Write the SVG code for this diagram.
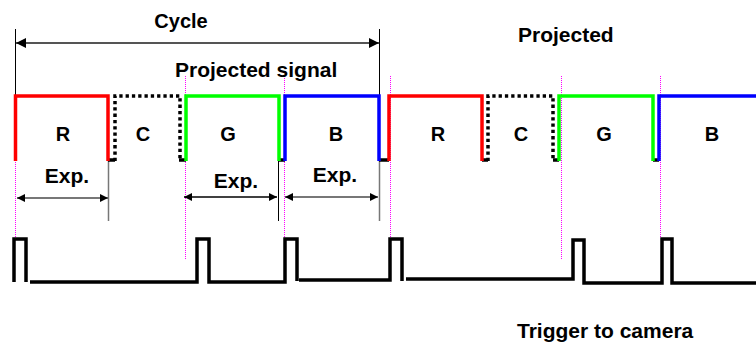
<svg xmlns="http://www.w3.org/2000/svg" width="756" height="343" viewBox="0 0 756 343">
<style>
text{font-family:"Liberation Sans",Arial,sans-serif;font-weight:bold;fill:#000}
.t20{font-size:20px}
.t21{font-size:21px}
.sig{fill:none;stroke-width:3.5;stroke-linejoin:miter}
.r{stroke:#ff0000}.g{stroke:#00ff00}.b{stroke:#0000ff}
.c{stroke:#000;stroke-dasharray:3.3 3}
.low{stroke:#000;stroke-width:3.5;fill:none}
.mag{stroke:#ff00ff;stroke-width:1;stroke-dasharray:1 1;fill:none}
.tick{stroke:#000;stroke-width:1;fill:none}
.gtick{stroke:#777;stroke-width:1.5;fill:none}
.trig{fill:none;stroke:#000;stroke-width:3.5;stroke-linejoin:miter}
</style>
<defs>
<marker id="ah" viewBox="0 0 10 10" refX="10" refY="5" markerWidth="8" markerHeight="8" markerUnits="userSpaceOnUse" orient="auto-start-reverse">
<path d="M0,0 L10,5 L0,10 Z" fill="#000"/>
</marker>
<marker id="ahc" viewBox="0 0 10 10" refX="10" refY="5" markerWidth="10" markerHeight="10" markerUnits="userSpaceOnUse" orient="auto-start-reverse">
<path d="M0,0 L10,5 L0,10 Z" fill="#000"/>
</marker>
</defs>

<g id="guides">
<path class="mag" d="M15.5,76 V238 M185.5,76 V259 M284.5,76 V238 M390.5,76 V238 M561.5,76 V259 M660.5,76 V238"/>
</g>

<g id="connectors">
<path class="tick" d="M15.5,29 V96 M379.5,29 V96"/>
<line x1="16" y1="43" x2="379" y2="43" stroke="#555" stroke-width="2" marker-start="url(#ahc)" marker-end="url(#ahc)"/>
<path class="gtick" d="M108.5,161 V221 M379.5,161 V221"/>
<path class="tick" d="M278.5,157 V221"/>
<line x1="17" y1="198" x2="108" y2="198" stroke="#777" stroke-width="2" marker-start="url(#ah)" marker-end="url(#ah)"/>
<line x1="184" y1="197" x2="277" y2="197" stroke="#000" stroke-width="1.5" marker-start="url(#ah)" marker-end="url(#ah)"/>
<line x1="285" y1="197" x2="378" y2="197" stroke="#777" stroke-width="2" marker-start="url(#ah)" marker-end="url(#ah)"/>
</g>

<g id="projected-signal">
<path class="low" d="M108,160 H115 M179,160 H186 M279,160 H285 M379,160 H389 M482,160 H488 M553,160 H559 M653,160 H659"/>
<path id="seg-R1" class="sig r" d="M15.5,161 V96 H108 V161"/>
<path id="seg-C1" class="sig c" d="M115,161 V96 H180 V161"/>
<path id="seg-G1" class="sig g" d="M186,161 V96 H279 V161"/>
<path id="seg-B1" class="sig b" d="M285,161 V96 H379 V161"/>
<path id="seg-R2" class="sig r" d="M389,161 V96 H482 V161"/>
<path id="seg-C2" class="sig c" d="M488,161 V96 H553 V161"/>
<path id="seg-G2" class="sig g" d="M559,161 V96 H653 V161"/>
<path id="seg-B2" class="sig b" d="M659,161 V96 H760"/>
</g>

<g id="trigger">
<path class="trig" d="M14,282 V239 H26 V282"/>
<path class="trig" d="M30,282 H197 V239 H209 V282 H285 V239 H297 V281"/>
<path class="trig" d="M299,280 H390 V239 H402 V281"/>
<path class="trig" d="M406,279 H573 V240 H584 V283 H662 V239 H672 V283 H760"/>
</g>

<g id="labels">
<text class="t20" x="181" y="28" text-anchor="middle">Cycle</text>
<text class="t21" x="175" y="77">Projected signal</text>
<text class="t21" x="518" y="42">Projected</text>
<text class="t21" x="517" y="338">Trigger to camera</text>
<text class="t20" x="63" y="141" text-anchor="middle">R</text>
<text class="t20" x="143" y="141" text-anchor="middle">C</text>
<text class="t20" x="228" y="141" text-anchor="middle">G</text>
<text class="t20" x="336" y="141" text-anchor="middle">B</text>
<text class="t20" x="438" y="141" text-anchor="middle">R</text>
<text class="t20" x="521" y="141" text-anchor="middle">C</text>
<text class="t20" x="604" y="141" text-anchor="middle">G</text>
<text class="t20" x="712" y="141" text-anchor="middle">B</text>
<text class="t21" x="67" y="183" text-anchor="middle">Exp.</text>
<text class="t21" x="236" y="188" text-anchor="middle">Exp.</text>
<text class="t21" x="335" y="182" text-anchor="middle">Exp.</text>
</g>
</svg>
